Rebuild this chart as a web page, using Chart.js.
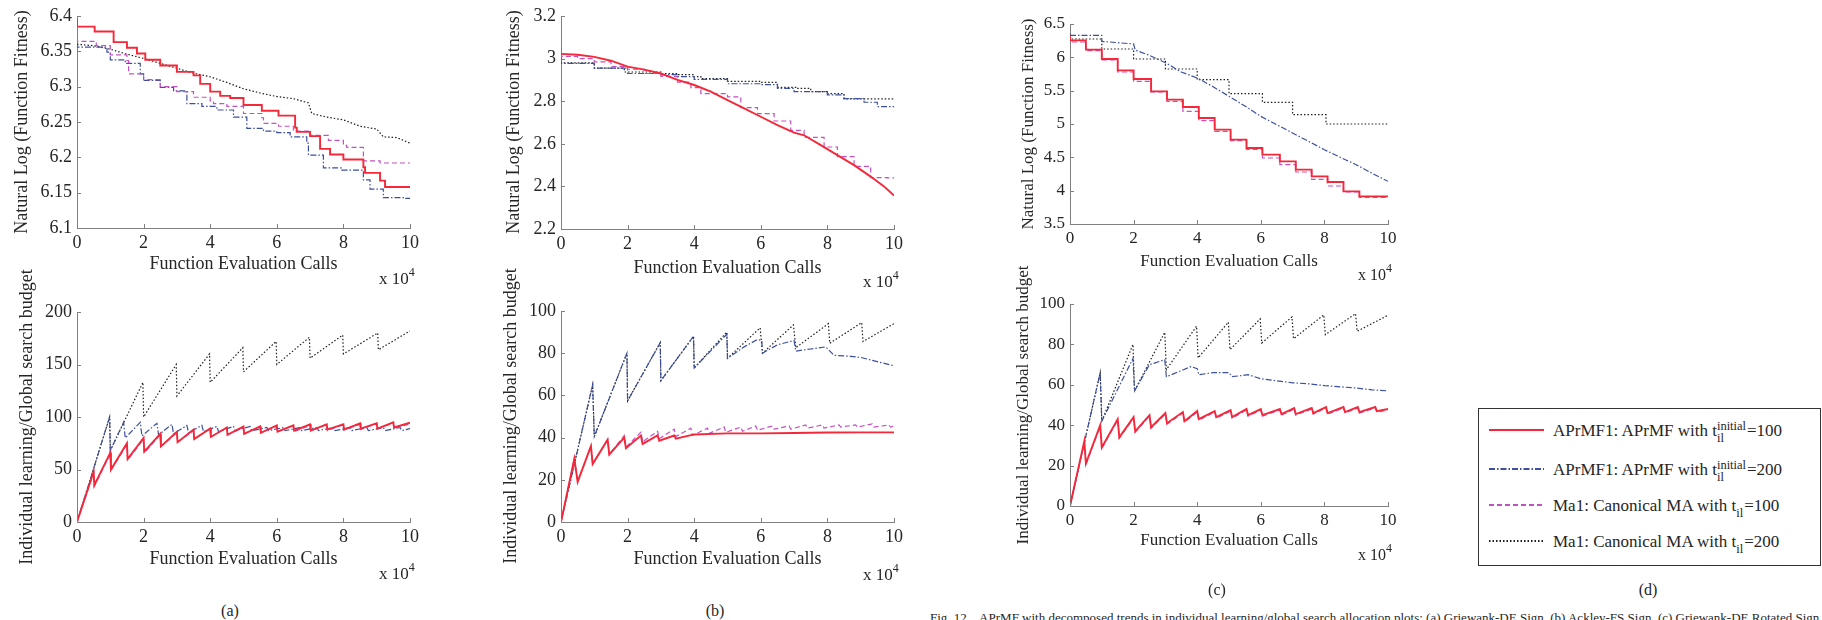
<!DOCTYPE html>
<html>
<head>
<meta charset="utf-8">
<script src="https://cdn.jsdelivr.net/npm/chart.js@4.4.1/dist/chart.umd.min.js"></script>
<style>
html,body{margin:0;padding:0;background:#fff;}
body{width:1822px;height:620px;overflow:hidden;position:relative;font-family:"Liberation Serif","Times New Roman",Times,serif;color:#262626;}
canvas{position:absolute;}
.t{position:absolute;white-space:nowrap;line-height:1;}
.c{transform:translate(-50%,-50%);}
.l{transform:translateY(-50%);}
.r{transform:translate(-50%,-50%) rotate(-90deg);}
.ss{position:relative;display:inline-block;font-size:12.5px;height:12.5px;}
.ss .sp{position:absolute;left:0;bottom:4px;}
.ss .sb{position:absolute;left:0;top:8.5px;}
sup.e{font-size:12px;position:relative;top:-1px;}
#legend{position:absolute;left:1478px;top:408px;width:343px;height:158px;border:1.5px solid #333;box-sizing:border-box;}
</style>
</head>
<body>
<div id="legend"></div>
<script>
// ---------- tick values / labels ----------
const xTicks = [0, 2, 4, 6, 8, 10];
const xLabels = ['0', '2', '4', '6', '8', '10'];
const aTopYTicks = [6.1, 6.15, 6.2, 6.25, 6.3, 6.35, 6.4];
const aTopYLabels = ['6.1', '6.15', '6.2', '6.25', '6.3', '6.35', '6.4'];
const aBotYTicks = [0, 50, 100, 150, 200];
const aBotYLabels = ['0', '50', '100', '150', '200'];
const bTopYTicks = [2.2, 2.4, 2.6, 2.8, 3.0, 3.2];
const bTopYLabels = ['2.2', '2.4', '2.6', '2.8', '3', '3.2'];
const bBotYTicks = [0, 20, 40, 60, 80, 100];
const bBotYLabels = ['0', '20', '40', '60', '80', '100'];
const cTopYTicks = [3.5, 4, 4.5, 5, 5.5, 6, 6.5];
const cTopYLabels = ['3.5', '4', '4.5', '5', '5.5', '6', '6.5'];
const cBotYTicks = [0, 20, 40, 60, 80, 100];
const cBotYLabels = ['0', '20', '40', '60', '80', '100'];

// ---------- series (x in units of 10^4 evaluations) ----------
// (a) top
const aTopRed = [[0,6.395],[0.53,6.385],[1.1,6.378],[1.5,6.363],[1.8,6.355],[2.05,6.347],[2.5,6.338],[3.0,6.330],[3.5,6.321],[3.7,6.316],[4.0,6.304],[4.3,6.293],[4.6,6.287],[5.0,6.284],[5.55,6.274],[6.05,6.266],[6.55,6.259],[6.6,6.242],[7.0,6.236],[7.3,6.230],[7.6,6.212],[8.0,6.204],[8.6,6.197],[8.65,6.186],[9.1,6.178],[9.25,6.167],[10,6.158]];
const aTopMag = [[0,6.369],[0.58,6.364],[1.0,6.358],[1.5,6.345],[1.55,6.337],[2.0,6.318],[2.5,6.31],[3.0,6.3],[3.5,6.293],[4.0,6.285],[4.1,6.28],[4.5,6.276],[5.0,6.272],[5.55,6.262],[5.6,6.256],[6.05,6.248],[6.5,6.244],[7.0,6.237],[7.55,6.231],[8.0,6.224],[8.1,6.217],[8.6,6.214],[9.1,6.195],[10,6.192]];
const aTopBlue = [[0,6.361],[0.9,6.356],[1.0,6.349],[1.45,6.338],[1.9,6.333],[2.0,6.318],[2.5,6.309],[2.9,6.299],[3.3,6.294],[3.75,6.276],[4.2,6.272],[4.7,6.267],[5.1,6.257],[5.6,6.241],[6.0,6.237],[6.4,6.235],[6.9,6.229],[6.95,6.22],[7.4,6.203],[7.95,6.185],[8.6,6.182],[8.8,6.168],[9.2,6.155],[9.85,6.143],[10,6.142]];
const aTopBlack = [[0,6.36],[0.5,6.358],[1.0,6.353],[1.5,6.346],[2.0,6.34],[2.5,6.333],[3.0,6.326],[3.5,6.319],[4.0,6.314],[4.5,6.306],[5.0,6.297],[5.5,6.291],[6.0,6.286],[6.5,6.283],[6.95,6.277],[7.05,6.262],[7.5,6.257],[8.0,6.253],[8.5,6.244],[9.0,6.24],[9.2,6.229],[9.6,6.228],[10,6.22]];
// (a) bottom
const aBotRed = [[0,0],[0.5,48],[0.52,35],[1.0,66],[1.02,50],[1.5,75],[1.52,60],[2.0,80],[2.02,67],[2.5,84],[2.52,72],[3.0,86],[3.02,76],[3.5,88],[3.52,79],[4.0,89],[4.02,81],[4.5,90],[4.52,83],[5.0,91],[5.02,84],[5.5,91],[5.52,85],[6.0,92],[6.02,86],[6.5,92],[6.52,87],[7.0,93],[7.02,87],[7.5,93],[7.52,88],[8.0,93],[8.02,88],[8.5,94],[8.52,89],[9.0,94],[9.02,89],[9.5,95],[9.52,90],[10,94.5]];
const aBotMag = [[0,0],[0.5,47],[0.52,34],[1.0,65],[1.02,49],[1.5,74],[1.52,59],[2.0,79],[2.02,66],[2.5,83],[2.52,72],[3.0,85],[3.02,76],[3.5,87],[3.52,79],[4.0,89],[4.02,81],[4.5,90],[4.52,83],[5.0,90],[5.02,84],[5.5,91],[5.52,85],[6.0,91],[6.02,86],[6.5,92],[6.52,86],[7.0,92],[7.02,87],[7.5,93],[7.52,87],[8.0,93],[8.02,88],[8.5,93],[8.52,88],[9.0,94],[9.02,89],[9.5,94],[9.52,89],[10,93.5]];
const aBotBlue = [[0,0],[0.98,100],[1.0,68],[1.4,95],[1.45,80],[1.9,95],[1.95,82],[2.4,94],[2.45,83],[2.85,93],[2.9,84],[3.3,92],[3.35,85],[3.75,92],[3.8,86],[4.2,91],[4.25,86],[4.7,91],[4.75,87],[5.2,91],[5.25,87],[5.7,90],[5.75,87],[6.2,90],[6.25,87],[6.7,90],[6.75,87],[7.2,90],[7.25,87],[7.7,90],[7.75,87],[8.2,90],[8.25,87],[8.7,90],[8.75,87],[9.2,90],[9.25,87],[9.7,90],[9.75,87],[10,89]];
const aBotBlack = [[0,0],[0.98,100],[1.0,68],[1.98,133],[2.0,100],[2.98,150],[3.0,120],[3.98,160],[4.0,133],[4.98,166],[5.0,143],[5.98,172],[6.0,150],[6.98,176],[7.0,156],[7.98,178],[8.0,160],[9.03,180],[9.05,164],[10,182]];
// (b) top
const bTopRed = [[0,3.022],[0.5,3.018],[1.0,3.008],[1.5,2.99],[2.0,2.962],[2.5,2.948],[3.0,2.93],[3.5,2.9],[4.0,2.876],[4.5,2.845],[5.0,2.805],[5.5,2.766],[6.0,2.727],[6.5,2.688],[7.0,2.652],[7.3,2.64],[7.8,2.594],[8.3,2.547],[8.8,2.5],[9.3,2.446],[9.7,2.4],[10,2.357]];
const bTopMag = [[0,3.025],[0.5,3.01],[1.0,3.0],[1.5,2.985],[2.0,2.962],[2.5,2.95],[3.0,2.93],[3.5,2.917],[3.9,2.89],[4.2,2.864],[5.0,2.836],[5.4,2.82],[5.9,2.77],[6.4,2.742],[6.9,2.707],[7.3,2.663],[7.9,2.63],[8.3,2.585],[8.8,2.54],[9.3,2.494],[9.8,2.441],[10,2.44]];
const bTopBlue = [[0,3.0],[1.0,2.978],[2.0,2.955],[3.0,2.93],[3.5,2.925],[4.0,2.915],[5.0,2.902],[6.0,2.882],[6.5,2.878],[7.0,2.86],[8.0,2.845],[8.5,2.83],[9.1,2.812],[9.5,2.795],[10,2.775]];
const bTopBlack = [[0,3.0],[1.0,2.98],[1.9,2.955],[3.0,2.937],[3.5,2.93],[4.0,2.925],[4.2,2.915],[5.0,2.906],[6.0,2.893],[6.5,2.888],[7.05,2.865],[7.5,2.86],[8.0,2.845],[8.5,2.836],[9.1,2.811],[10,2.811]];
// (b) bottom
const bBotRed = [[0,0],[0.4,30],[0.5,19],[0.9,36],[0.95,27.5],[1.4,39],[1.45,32],[1.9,40],[1.95,35],[2.4,41],[2.45,37],[2.9,41],[2.95,38.5],[3.4,41],[3.45,39.5],[4.0,41.5],[5.0,42],[6.0,42],[7.0,42.2],[8.0,42.4],[9.0,42.5],[10,42.5]];
const bBotMag = [[0,0],[0.4,30],[0.5,19],[0.9,36],[0.95,27.5],[1.4,39],[1.45,32],[1.9,41],[1.95,35.5],[2.4,42.5],[2.45,38],[2.9,43],[2.95,39.5],[3.4,44],[3.45,40.5],[3.9,44.5],[3.95,41],[4.4,44.5],[4.45,42],[4.9,45],[4.95,42.5],[5.4,45],[5.45,43],[5.85,45.5],[5.9,43.5],[6.35,45.5],[6.4,44],[6.85,45.5],[6.9,44],[7.35,46],[7.4,44.5],[7.85,46],[7.9,44.5],[8.35,46],[8.4,45],[8.85,46],[8.9,45],[9.35,46.5],[9.4,45],[9.85,46],[9.9,45],[10,45.5]];
const bBotBlue = [[0,0],[0.95,65],[1.0,40.5],[1.98,80],[2.0,57.4],[2.98,85],[3.0,67],[3.98,88],[4.0,73],[4.98,89],[5.0,77.6],[5.5,83],[5.9,86.5],[6.03,86],[6.05,80],[6.5,84],[7.0,86],[7.05,81],[7.5,82],[7.95,83],[8.2,79],[8.7,78.5],[9.0,78],[9.5,76],[10,74]];
const bBotBlack = [[0,0],[0.95,65],[1.0,40.5],[1.98,80],[2.0,57.4],[2.98,85],[3.0,67],[3.98,88],[4.0,73],[4.98,90],[5.0,77.6],[5.98,92],[6.05,80],[6.98,93.4],[7.05,82.6],[8.03,94],[8.07,84.7],[9.03,94.5],[9.07,85.5],[10,94]];
// (c) top
const cTopRed = [[0,6.33],[0.5,6.255],[1.0,6.115],[1.5,5.975],[2.0,5.805],[2.55,5.675],[3.05,5.49],[3.55,5.365],[4.05,5.255],[4.55,5.09],[5.05,4.915],[5.55,4.765],[6.05,4.64],[6.6,4.54],[7.1,4.44],[7.6,4.315],[8.1,4.215],[8.6,4.13],[9.1,3.99],[9.6,3.915],[10,3.915]];
const cTopMag = [[0,6.32],[0.5,6.23],[1.0,6.1],[1.5,5.96],[2.0,5.78],[2.55,5.64],[3.05,5.48],[3.55,5.34],[4.05,5.19],[4.55,5.05],[5.05,4.89],[5.55,4.75],[6.05,4.62],[6.6,4.49],[7.1,4.39],[7.6,4.28],[8.1,4.17],[8.6,4.07],[9.1,3.98],[9.6,3.9],[10,3.9]];
const cTopBlue = [[0,6.33],[1.0,6.33],[1.0,6.24],[2.0,6.2],[2.05,6.11],[2.5,6.03],[3.0,5.92],[3.5,5.78],[4.0,5.69],[4.5,5.56],[5.0,5.415],[5.5,5.27],[6.0,5.115],[6.5,4.99],[7.0,4.865],[7.5,4.74],[8.0,4.615],[8.5,4.5],[9.0,4.39],[9.5,4.26],[10,4.14]];
const cTopBlack = [[0,6.355],[1.0,6.275],[2.0,6.125],[3.0,5.975],[4.0,5.825],[5.0,5.665],[6.05,5.455],[7.0,5.325],[8.05,5.14],[9.05,5.0],[10,5.0]];
// (c) bottom
const cBotRed = [[0,0],[0.45,32],[0.5,21],[0.95,40],[1.0,29],[1.5,43],[1.55,34],[2.0,44],[2.05,37],[2.5,45],[2.55,39],[3.0,46],[3.05,41],[3.55,46.5],[3.6,42],[4.0,47],[4.05,43],[4.55,47],[4.6,44],[5.05,47.5],[5.1,44],[5.55,48],[5.6,45],[6.0,48],[6.05,45],[6.6,48],[6.65,45.5],[7.05,48.5],[7.1,45.5],[7.6,48.5],[7.65,46],[8.05,49],[8.1,46],[8.6,49],[8.65,46.5],[9.05,49],[9.1,46.5],[9.6,49],[9.65,47],[10,48]];
const cBotMag = [[0,0],[0.45,31.5],[0.5,20.5],[0.95,39.5],[1.0,28.5],[1.5,42.5],[1.55,33.5],[2.0,43.5],[2.05,36.5],[2.5,44.5],[2.55,38.5],[3.0,45.5],[3.05,40.5],[3.55,46],[3.6,41.5],[4.0,46.5],[4.05,42.5],[4.55,46.5],[4.6,43.5],[5.05,47],[5.1,43.5],[5.55,47.5],[5.6,44.5],[6.0,47.5],[6.05,44.5],[6.6,47.5],[6.65,45],[7.05,48],[7.1,45],[7.6,48],[7.65,45.5],[8.05,48.5],[8.1,45.5],[8.6,48.5],[8.65,46],[9.05,48.5],[9.1,46],[9.6,48.5],[9.65,46.5],[10,47.5]];
const cBotBlue = [[0,0],[0.95,66],[1.0,42],[1.98,73],[2.03,57],[2.5,70],[2.98,72.4],[3.03,64],[3.5,67],[3.8,69],[4.0,68],[4.05,65],[4.5,66],[5.0,66],[5.1,64],[5.6,65],[6.0,63],[6.5,62],[7.0,61],[7.5,60.5],[8.0,59.6],[8.5,59],[9.0,58.4],[9.5,57.5],[10,57]];
const cBotBlack = [[0,0],[0.95,66],[1.0,42],[1.98,80],[2.03,57],[2.98,86],[3.03,67.5],[3.98,89],[4.03,73.3],[4.98,91],[5.03,77.4],[5.98,92.6],[6.03,80.7],[6.98,93.6],[7.03,82.8],[7.98,94.6],[8.03,84.8],[8.98,95.2],[9.03,86.5],[10,94.4]];

// ---------- styles ----------
const FONT = '"Liberation Serif","Times New Roman",Times,serif';
const TXT = '#262626';
const AXIS = '#808080';
const ST = {
  red:  {borderColor:'#f5283a', borderWidth:1.9, borderDash:[]},
  mag:  {borderColor:'#c451c0', borderWidth:1.2, borderDash:[5,3]},
  blue: {borderColor:'#3d4f9e', borderWidth:1.2, borderDash:[6,2,1.5,2]},
  blk:  {borderColor:'#1e1e1e', borderWidth:1.2, borderDash:[1.5,2]}
};

const innerTicks = {
  id:'innerTicks',
  afterDatasetsDraw(chart){
    const {ctx, chartArea:a, scales:{x, y}} = chart;
    ctx.save();
    ctx.strokeStyle = AXIS; ctx.lineWidth = 1; ctx.setLineDash([]);
    ctx.beginPath();
    x.ticks.forEach(t => { const p = Math.round(x.getPixelForValue(t.value)) + 0.5; ctx.moveTo(p, a.bottom); ctx.lineTo(p, a.bottom - 4); });
    y.ticks.forEach(t => { const p = Math.round(y.getPixelForValue(t.value)) + 0.5; ctx.moveTo(a.left, p); ctx.lineTo(a.left + 4, p); });
    ctx.stroke();
    ctx.restore();
  }
};

const panels = [
  {box:[77,16,410,228],  fs:18, yMin:6.1, yMax:6.4, yT:aTopYTicks, yL:aTopYLabels,
   series:[[aTopRed,'red',true],[aTopMag,'mag',true],[aTopBlue,'blue',true],[aTopBlack,'blk',false]]},
  {box:[77,312,410,522], fs:18, yMin:0, yMax:200, yT:aBotYTicks, yL:aBotYLabels,
   series:[[aBotRed,'red',false],[aBotMag,'mag',false],[aBotBlue,'blue',false],[aBotBlack,'blk',false]]},
  {box:[561,16,894,229], fs:18, yMin:2.2, yMax:3.2, yT:bTopYTicks, yL:bTopYLabels,
   series:[[bTopRed,'red',false],[bTopMag,'mag',true],[bTopBlue,'blue',true],[bTopBlack,'blk',true]]},
  {box:[561,311,894,522], fs:18, yMin:0, yMax:100, yT:bBotYTicks, yL:bBotYLabels,
   series:[[bBotRed,'red',false],[bBotMag,'mag',false],[bBotBlue,'blue',false],[bBotBlack,'blk',false]]},
  {box:[1070,24,1388,224], fs:17, yMin:3.5, yMax:6.5, yT:cTopYTicks, yL:cTopYLabels,
   series:[[cTopRed,'red',true],[cTopMag,'mag',true],[cTopBlue,'blue',false],[cTopBlack,'blk',true]]},
  {box:[1070,304,1388,506], fs:17, yMin:0, yMax:100, yT:cBotYTicks, yL:cBotYLabels,
   series:[[cBotRed,'red',false],[cBotMag,'mag',false],[cBotBlue,'blue',false],[cBotBlack,'blk',false]]}
];

function build(p){
  const [ax, top, right, bottom] = p.box;
  const L = 50, T = 18, R = 22, B = 34;
  const w = right + R - (ax - L), h = bottom + B - (top - T);
  const cv = document.createElement('canvas');
  cv.width = w; cv.height = h;
  cv.style.left = (ax - L) + 'px'; cv.style.top = (top - T) + 'px';
  cv.style.width = w + 'px'; cv.style.height = h + 'px';
  document.body.appendChild(cv);
  const font = {family:FONT, size:p.fs};
  new Chart(cv.getContext('2d'), {
    type:'line',
    data:{datasets:p.series.map(([d, s, step]) => Object.assign({data:d, stepped: step ? 'after' : false, fill:false, pointRadius:0, borderCapStyle:'butt', borderJoinStyle:'miter'}, ST[s]))},
    options:{
      responsive:false, animation:false, devicePixelRatio:1,
      layout:{padding:{top:T, right:R, left:0, bottom:0}},
      plugins:{legend:{display:false}, tooltip:{enabled:false}},
      elements:{line:{tension:0}},
      scales:{
        x:{type:'linear', min:0, max:10,
           afterBuildTicks:s => { s.ticks = xTicks.map(v => ({value:v})); },
           afterFit:s => { s.height = B; },
           ticks:{autoSkip:false, maxRotation:0, padding:4, color:TXT, font, callback:(v, i) => xLabels[i]},
           grid:{display:true, drawOnChartArea:false, drawTicks:false},
           border:{display:true, color:AXIS, width:1}},
        y:{type:'linear', min:p.yMin, max:p.yMax,
           afterBuildTicks:s => { s.ticks = p.yT.map(v => ({value:v})); },
           afterFit:s => { s.width = L; },
           ticks:{autoSkip:false, padding:5, color:TXT, font, callback:(v, i) => p.yL[i]},
           grid:{display:true, drawOnChartArea:false, drawTicks:false},
           border:{display:true, color:AXIS, width:1}}
      }
    },
    plugins:[innerTicks]
  });
}
panels.forEach(build);

// ---------- texts ----------
function addText(html, x, y, cls, size){
  const d = document.createElement('div');
  d.className = 't ' + cls;
  d.style.left = x + 'px'; d.style.top = y + 'px';
  d.style.fontSize = size + 'px';
  d.innerHTML = html;
  document.body.appendChild(d);
  return d;
}
const XT = 'Function Evaluation Calls';
const NL = 'Natural Log (Function Fitness)';
const IL = 'Individual learning/Global search budget';
const X4 = 'x 10<sup class="e">4</sup>';
[[243.5,263,18],[243.5,558,18],[727.5,267,18],[727.5,558,18],[1229,260,17],[1229,539,17]]
  .forEach(([x,y,s]) => addText(XT, x, y, 'c', s));
[[21,122,NL,18],[26,417,IL,18],[513,122,NL,18],[510,416,IL,18],[1027,124,NL,17],[1022,405,IL,17]]
  .forEach(([x,y,t,s]) => addText(t, x, y, 'r', s));
[[379,277,17],[379,572,17],[863,280,17],[863,573,17],[1358,273,16],[1358,553,16]]
  .forEach(([x,y,s]) => addText(X4, x, y, 'l', s));
[[230,611,'(a)'],[715,611,'(b)'],[1217,590,'(c)'],[1648,590,'(d)']]
  .forEach(([x,y,t]) => addText(t, x, y, 'c', 16));
addText('Fig. 12.&nbsp;&nbsp; APrMF with decomposed trends in individual learning/global search allocation plots: (a) Griewank-DE Sign, (b) Ackley-FS Sign, (c) Griewank-DE Rotated Sign, (d) legend.', 930, 610.5, '', 13);

// ---------- legend ----------
const legendItems = [
  ['red', 430, 'APrMF1: APrMF with t<span class="ss" style="width:30px"><span class="sp">initial</span><span class="sb">il</span></span>=100'],
  ['blue', 469, 'APrMF1: APrMF with t<span class="ss" style="width:30px"><span class="sp">initial</span><span class="sb">il</span></span>=200'],
  ['mag', 505, 'Ma1: Canonical MA with t<span class="ss" style="width:8px"><span class="sb">il</span></span>=100'],
  ['blk', 541, 'Ma1: Canonical MA with t<span class="ss" style="width:8px"><span class="sb">il</span></span>=200']
];
const svgNS = 'http://www.w3.org/2000/svg';
const svg = document.createElementNS(svgNS, 'svg');
svg.setAttribute('width', 70); svg.setAttribute('height', 140);
svg.style.cssText = 'position:absolute;left:1484px;top:415px;';
legendItems.forEach(([s, y, html]) => {
  const ln = document.createElementNS(svgNS, 'line');
  ln.setAttribute('x1', 5); ln.setAttribute('x2', 60);
  ln.setAttribute('y1', y - 415); ln.setAttribute('y2', y - 415);
  ln.setAttribute('stroke', ST[s].borderColor);
  ln.setAttribute('stroke-width', s === 'red' ? 2.2 : 2);
  if (ST[s].borderDash.length) ln.setAttribute('stroke-dasharray', ST[s].borderDash.join(' '));
  svg.appendChild(ln);
  addText(html, 1553, y, 'l', 17);
});
document.body.appendChild(svg);
</script>
</body>
</html>
